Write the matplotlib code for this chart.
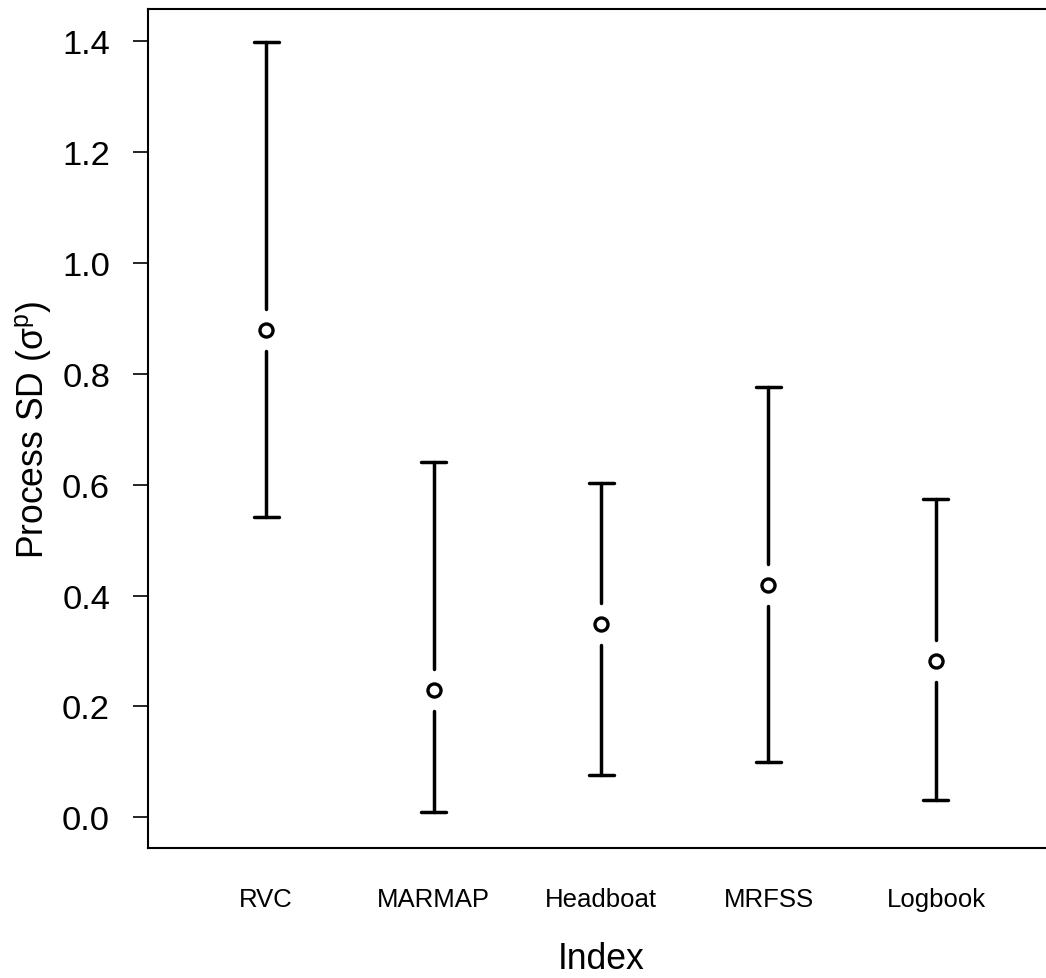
import matplotlib
matplotlib.use("Agg")
import matplotlib.pyplot as plt
import numpy as np

plt.rcParams['font.family'] = ['Liberation Sans', 'DejaVu Sans']
plt.rcParams['mathtext.fontset'] = 'custom'
plt.rcParams['mathtext.rm'] = 'Liberation Sans'
plt.rcParams['mathtext.it'] = 'Liberation Sans:italic'

# Data
categories = ["RVC", "MARMAP", "Headboat", "MRFSS", "Logbook"]
estimate = [0.879, 0.230, 0.349, 0.419, 0.282]
lower = [0.542, 0.009, 0.077, 0.099, 0.031]
upper = [1.398, 0.641, 0.603, 0.776, 0.574]
yticks = [0.0, 0.2, 0.4, 0.6, 0.8, 1.0, 1.2, 1.4]

W, H = 1046, 979
fig = plt.figure(figsize=(W / 100, H / 100), dpi=100)
ax_l, ax_r, ax_t, ax_b = 148, 1054, 10, 849.3
ax = fig.add_axes([ax_l / W, 1 - ax_b / H, (ax_r - ax_l) / W, (ax_b - ax_t) / H])

x = np.arange(1, len(categories) + 1)
ax.set_xlim(0.2955, 5.7045)
ax.set_ylim(-0.0559, 1.4577)

# pixel -> data conversions
px_per_y = (ax_b - ax_t) / (1.4577 + 0.0559)
px_per_x = (ax_r - ax_l) / (5.7045 - 0.2955)
gap = 21 / px_per_y
cap_half = 12.5 / px_per_x

est = np.array(estimate)
lo = np.array(lower)
up = np.array(upper)

lw = 2.5
ax.vlines(x, lo, est - gap, color='black', lw=lw, capstyle='round')
ax.vlines(x, est + gap, up, color='black', lw=lw, capstyle='round')
ax.hlines(lo, x - cap_half, x + cap_half, color='black', lw=lw, capstyle='round')
ax.hlines(up, x - cap_half, x + cap_half, color='black', lw=lw, capstyle='round')
ax.plot(x, est, linestyle='none', marker='o', markersize=9.4, markerfacecolor='white',
        markeredgecolor='black', markeredgewidth=2.4, zorder=5)

for s in ['left', 'bottom', 'top']:
    ax.spines[s].set_linewidth(1.5)
ax.spines['right'].set_visible(False)

ax.set_yticks(yticks)
ax.set_yticklabels([f"{v:.1f}" for v in yticks], fontsize=24.8)
ax.tick_params(axis='y', length=10.8, width=1.2, pad=16.5)

ax.set_xticks(x)
ax.set_xticklabels(categories, fontsize=18.5)
ax.tick_params(axis='x', length=0, pad=27.9)

ax.set_xlabel("Index", fontsize=25.6)
ax.xaxis.set_label_coords(0.5, (ax_b - 969) / (ax_b - ax_t))
ax.xaxis.label.set_va('baseline')

ax.set_ylabel(r"Process SD (σ$^{\mathregular{p}}$)", fontsize=25.6)
ax.yaxis.set_label_coords((53 - ax_l) / (ax_r - ax_l), 0.5)

fig.savefig("out.png", dpi=100)
